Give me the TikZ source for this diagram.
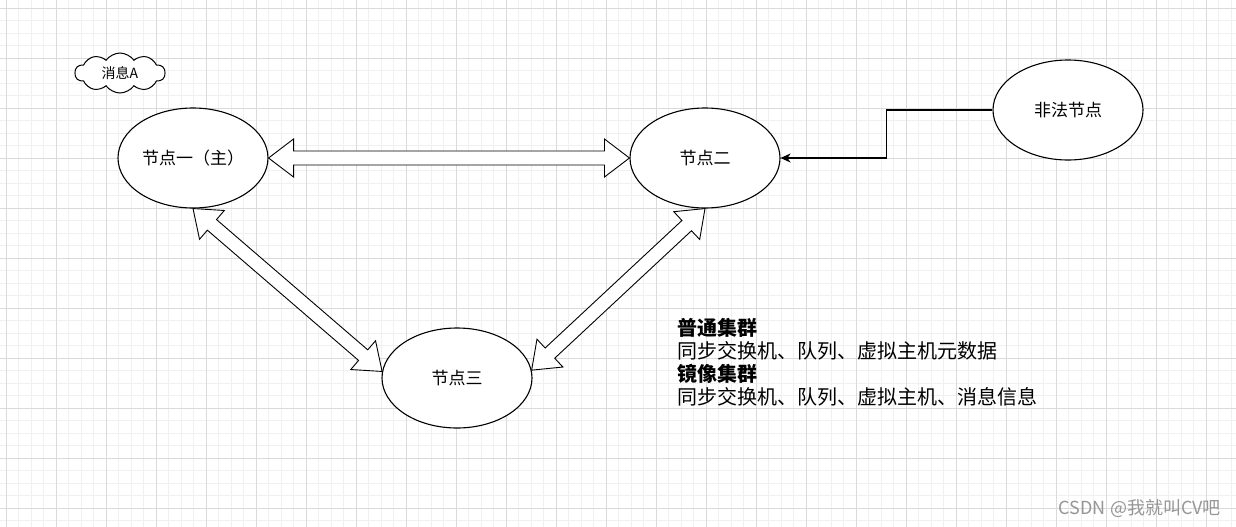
\documentclass[tikz,border=0pt]{standalone}
\usepackage{fontspec}
\setmainfont{Noto Sans CJK SC}
\usetikzlibrary{arrows.meta, calc, positioning, shapes.geometric, shapes.symbols}

\definecolor{GridMinor}{RGB}{240,240,240}
\definecolor{GridMajor}{RGB}{218,218,218}
\definecolor{MarkGray}{RGB}{150,150,150}

\tikzset{
  peer/.style={ellipse, draw, line width=1.1pt, fill=white,
    minimum width=150pt, minimum height=100pt, inner sep=0pt,
    font=\fontsize{17pt}{20pt}\selectfont},
  msgcloud/.style={cloud, draw, line width=1pt, fill=white, cloud puffs=10,
    cloud puff arc=110, aspect=2.3, minimum width=90pt, minimum height=40pt,
    inner sep=0pt, font=\fontsize{14pt}{16pt}\selectfont},
  blockarrow/.style={draw, line width=0.9pt, fill=white, line join=miter},
  feed/.style={-{Stealth[length=10pt,width=9pt,inset=3pt]}, line width=1.1pt},
}

% hollow two-way arrow between two anchors
\newcommand{\syncarrow}[2]{%
  \draw[blockarrow] (#1)
    -- ($(#1)!25pt!(#2)!19pt!90:(#2)$) -- ($(#1)!25pt!(#2)!7pt!90:(#2)$)
    -- ($(#2)!25pt!(#1)!7pt!-90:(#1)$) -- ($(#2)!25pt!(#1)!19pt!-90:(#1)$)
    -- (#2)
    -- ($(#2)!25pt!(#1)!19pt!90:(#1)$) -- ($(#2)!25pt!(#1)!7pt!90:(#1)$)
    -- ($(#1)!25pt!(#2)!7pt!-90:(#2)$) -- ($(#1)!25pt!(#2)!19pt!-90:(#2)$)
    -- cycle;}

\begin{document}
\begin{tikzpicture}[x=1pt, y=-1pt]
  \useasboundingbox (0,0) rectangle (1236,527);
  \fill[white] (0,0) rectangle (1236,527);

  % grid paper
  \foreach \gx in {6,18.5,...,1236} \draw[GridMinor, line width=0.8pt] (\gx,0) -- (\gx,527);
  \foreach \gy in {8,20.5,...,527} \draw[GridMinor, line width=0.8pt] (0,\gy) -- (1236,\gy);
  \foreach \gx in {6,56,...,1236} \draw[GridMajor, line width=0.8pt] (\gx,0) -- (\gx,527);
  \foreach \gy in {8,58,...,527} \draw[GridMajor, line width=0.8pt] (0,\gy) -- (1236,\gy);

  % nodes
  \node[msgcloud] (msgA) at (120,73) {消息A};
  \node[peer] (master) at (193,158) {节点一（主）};
  \node[peer] (second) at (705,158) {节点二};
  \node[peer] (third) at (457,378) {节点三};
  \node[peer] (intruder) at (1068,110) {非法节点};

  % links
  \syncarrow{master.east}{second.west}
  \syncarrow{master.south}{third.175}
  \syncarrow{second.south}{third.6}
  \draw[feed] (intruder.west) -| ($(intruder.west)!0.5!(second.east)$) |- (second.east);

  % notes
  \node[anchor=north west, inner sep=0pt, align=left,
    font=\fontsize{20pt}{23pt}\selectfont] (notes) at (677,318)
    {\textbf{普通集群}\\同步交换机、队列、虚拟主机元数据\\\textbf{镜像集群}\\同步交换机、队列、虚拟主机、消息信息};

  \node[anchor=east, inner sep=0pt, text=MarkGray,
    font=\fontsize{18pt}{20pt}\selectfont] (mark) at (1221,508) {CSDN @我就叫CV吧};
\end{tikzpicture}
\end{document}
